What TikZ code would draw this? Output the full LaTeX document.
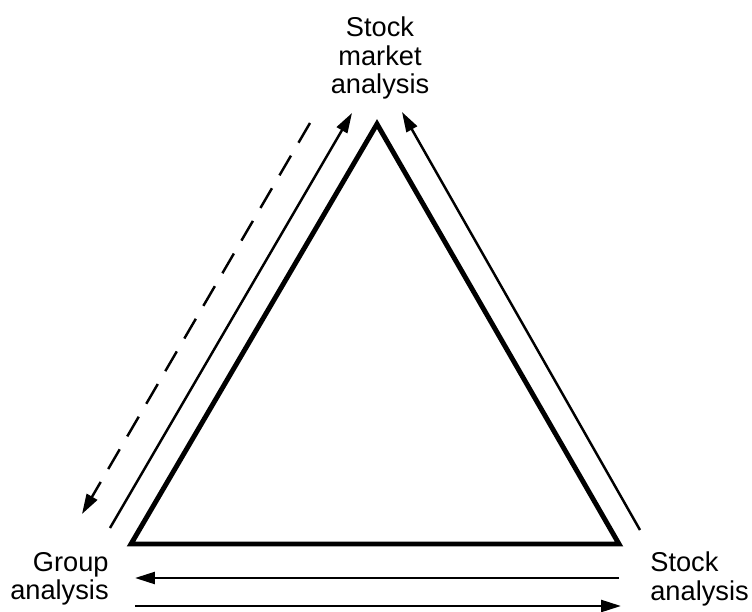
\documentclass[tikz,border=0pt]{standalone}
\usepackage{fontspec}
\setmainfont{Liberation Sans}
\usetikzlibrary{arrows.meta}

\begin{document}
\begin{tikzpicture}[
    x=0.02cm, y=-0.02cm,
    label/.style={inner sep=0pt, font=\fontsize{15.5}{16}\selectfont},
    tri/.style={draw=black, line width=2.8pt, line join=miter},
    flow/.style={draw=black, line width=1.4pt, -{Triangle[length=0.4cm, width=0.24cm]}},
    feedback/.style={flow, dash pattern=on 13pt off 8.5pt}
]
\useasboundingbox (0,0) rectangle (752,612);

% labels at the corners
\node[label, align=center] (market) at (380,58) {Stock\\market\\analysis};
\node[label, align=right, anchor=east] (group) at (109,579) {Group\\analysis};
\node[label, align=left, anchor=west] (stock) at (650,579) {Stock\\analysis};

% the triangle
\coordinate (apex) at (377,124);
\coordinate (bl) at (131,544);
\coordinate (br) at (619,544);
\draw[tri] (apex) -- (br) -- (bl) -- cycle;

% free ends of the arrows
\coordinate (dashtop) at (310,123);
\coordinate (dashbot) at (82,514);
\coordinate (uptail) at (110,528);
\coordinate (uphead) at (352,113);
\coordinate (rtail) at (640,530);
\coordinate (rhead) at (402,112);
\coordinate (btopr) at (619,578);
\coordinate (btopl) at (135,578);
\coordinate (bbotl) at (135,606);
\coordinate (bbotr) at (621,606);

\draw[feedback] (dashtop) -- (dashbot);
\draw[flow] (uptail) -- (uphead);
\draw[flow] (rtail) -- (rhead);
\draw[flow] (btopr) -- (btopl);
\draw[flow] (bbotl) -- (bbotr);

\end{tikzpicture}
\end{document}
